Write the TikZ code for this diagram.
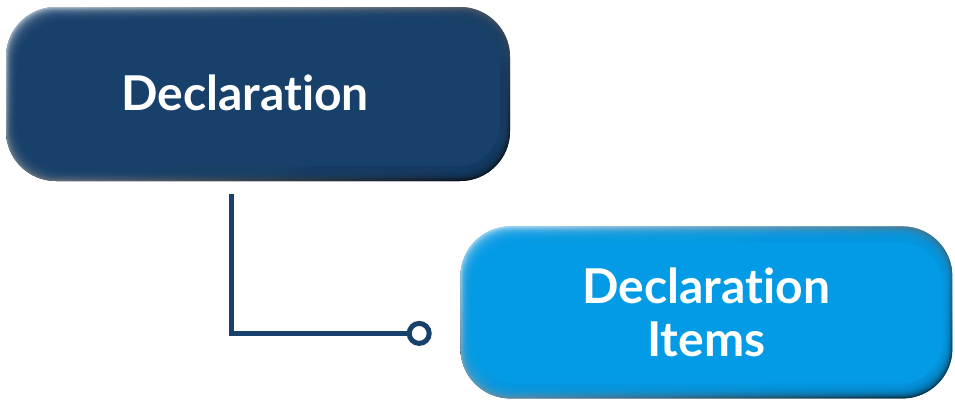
\documentclass[tikz,border=0pt]{standalone}
\usepackage{fontspec}
\setmainfont{Lato}[Ligatures=NoCommon]
\usepackage{xcolor}
\usetikzlibrary{positioning,calc}
\definecolor{declblue}{HTML}{17406B}
\definecolor{decltop}{HTML}{B4C5D5}
\definecolor{declbot}{HTML}{020810}
\definecolor{itemblue}{HTML}{049BE6}
\definecolor{itemtop}{HTML}{B4E3FB}
\definecolor{itembot}{HTML}{011F33}

\tikzset{
  bevel/.style n args={3}{fill=#2, rounded corners=50pt, path picture={
      \shade[top color=#1, middle color=#2, bottom color=#3]
        (path picture bounding box.south west) rectangle (path picture bounding box.north east);
      \shade[left color=#1, middle color=#2, right color=#3, fill opacity=0.6]
        (path picture bounding box.south west) rectangle (path picture bounding box.north east);
      \foreach \k in {1,...,20}
        \fill[#2, opacity=0.16, rounded corners=48pt]
          ([shift={(\k*0.6pt,\k*0.72pt)}]path picture bounding box.south west) rectangle
          ([shift={(-\k*0.45pt,-\k*0.75pt)}]path picture bounding box.north east);
      % flat face
      \fill[#2, rounded corners=42pt]
        ([shift={(13pt,15pt)}]path picture bounding box.south west) rectangle
        ([shift={(-10pt,-16pt)}]path picture bounding box.north east);
    }},
  boxtext/.style={text=white, align=center, font=\fontsize{48}{53}\selectfont\bfseries},
}

\begin{document}
\begin{tikzpicture}[x=1pt, y=-1pt, link/.style={draw=declblue, line width=5pt}]
        \useasboundingbox (0,0) rectangle (955,400);
        \node[bevel={decltop}{declblue}{declbot}, boxtext, minimum width=504pt, minimum height=174pt] (decl) at (258,94) {\raisebox{3pt}{Declaration}\hspace*{26pt}};
        \node[bevel={itemtop}{itemblue}{itembot}, boxtext, minimum width=492pt, minimum height=172pt, below right=45pt and -50pt of decl] (items) {Declaration\\Items};

        \coordinate (start) at ([xshift=-27pt, yshift=-13pt]decl.south);
        \node[circle, draw=declblue, line width=5pt, fill=white, minimum size=20pt, inner sep=0pt] (dot) at ([xshift=-41pt, yshift=-21pt]items.west) {};
        \draw[link] (start) |- (dot);
    \end{tikzpicture}
\end{document}
